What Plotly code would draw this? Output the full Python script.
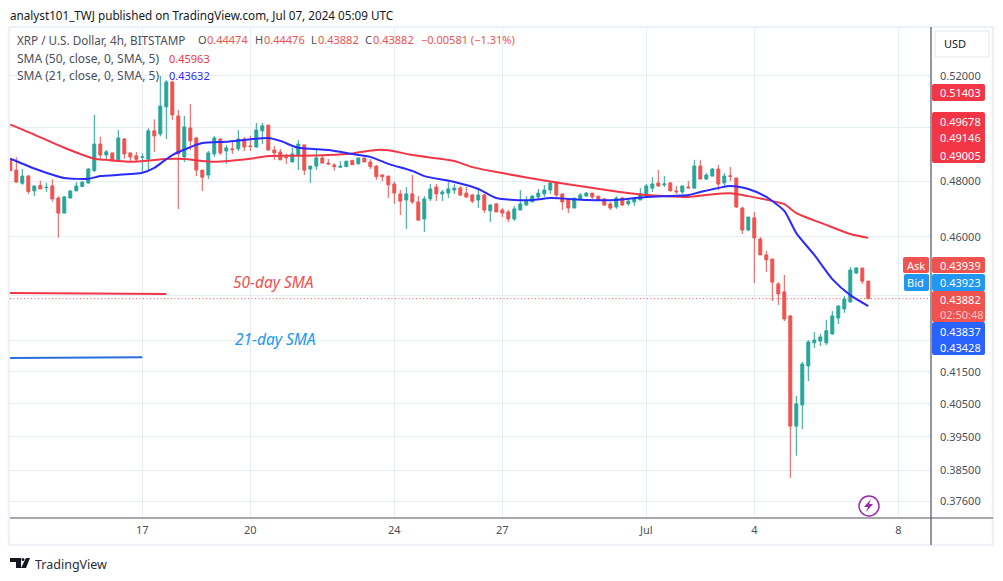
import math
import pandas as pd
import plotly.graph_objects as go

# ---- data (4h bars, XRP / USD) ----
bar_start = "2024-06-13 08:00"
opens = [.4878,.4840,.4792,.4818,.4764,.4784,.4776,.4782,.4738,.4684,.4738,.4764,.4780,.4793,.4839,.4937,.4896,.4904,.4878,.4956,
         .4904,.4893,.4888,.4881,.4987,.4975,.5079,.5176,.5044,.4889,.4998,.4960,.4840,.4822,.4900,.4956,.4911,.4919,.4919,.4956,
         .4930,.4926,.4987,.5009,.4915,.4907,.4889,.4870,.4893,.4934,.4844,.4855,.4885,.4866,.4859,.4851,.4853,.4876,.4864,.4885,
         .4870,.4855,.4822,.4818,.4789,.4753,.4731,.4753,.4724,.4663,.4735,.4778,.4753,.4756,.4767,.4774,.4756,.4749,.4731,.4749,
         .4692,.4717,.4695,.4688,.4663,.4695,.4713,.4724,.4742,.4753,.4767,.4796,.4753,.4735,.4702,.4735,.4745,.4756,.4745,.4735,
         .4717,.4706,.4738,.4717,.4724,.4731,.4749,.4774,.4793,.4786,.4793,.4764,.4760,.4778,.4774,.4855,.4807,.4818,.4844,.4793,
         .4819,.4811,.4702,.4624,.4667,.4592,.4537,.4523,.4438,.4411,.4331,.3982,.4047,.4169,.4243,.4249,.4243,.4272,.4324,.4354,
         .4377,.4475,.4492,.44474]
highs = [.4884,.4888,.4844,.4822,.4782,.4801,.4794,.4806,.4745,.4745,.4764,.4796,.4799,.4847,.5048,.4965,.4915,.4905,.4990,.4960,
         .4904,.4907,.4903,.4997,.5031,.5200,.5184,.5181,.5067,.5044,.5090,.4964,.4840,.4911,.4968,.4960,.4934,.4949,.4990,.4964,
         .4968,.5017,.5017,.5009,.4930,.4919,.4900,.4923,.4952,.4934,.4855,.4919,.4893,.4881,.4865,.4873,.4874,.4878,.4886,.4885,
         .4881,.4858,.4825,.4818,.4798,.4767,.4778,.4822,.4745,.4745,.4789,.4789,.4767,.4796,.4789,.4782,.4778,.4753,.4771,.4753,
         .4717,.4719,.4702,.4695,.4710,.4767,.4745,.4749,.4771,.4785,.4800,.4796,.4753,.4738,.4738,.4756,.4760,.4756,.4745,.4738,
         .4724,.4745,.4742,.4738,.4742,.4774,.4789,.4814,.4840,.4818,.4796,.4782,.4782,.4800,.4878,.4878,.4829,.4848,.4859,.4829,
         .4851,.4811,.4706,.4670,.4688,.4599,.4551,.4523,.4444,.4468,.4334,.4075,.4182,.4252,.4278,.4272,.4318,.4347,.4364,.4397,
         .4495,.4495,.4492,.44476]
lows = [.4838,.4794,.4786,.4753,.4745,.4771,.4760,.4725,.4597,.4684,.4738,.4764,.4778,.4790,.4833,.4878,.4878,.4874,.4878,.4882,
        .4871,.4874,.4834,.4840,.4907,.4966,.4956,.5028,.4699,.4870,.4915,.4818,.4764,.4807,.4889,.4896,.4863,.4900,.4911,.4911,
        .4911,.4923,.4937,.4911,.4878,.4878,.4863,.4870,.4840,.4822,.4793,.4840,.4866,.4859,.4838,.4848,.4851,.4859,.4859,.4870,
        .4844,.4804,.4799,.4738,.4717,.4677,.4628,.4717,.4656,.4617,.4727,.4727,.4727,.4738,.4753,.4745,.4738,.4720,.4702,.4684,
        .4652,.4688,.4670,.4652,.4656,.4695,.4710,.4724,.4731,.4742,.4753,.4742,.4695,.4684,.4702,.4731,.4745,.4735,.4731,.4710,
        .4695,.4699,.4710,.4710,.4710,.4731,.4745,.4760,.4778,.4778,.4764,.4753,.4753,.4774,.4774,.4807,.4804,.4818,.4767,.4782,
        .4800,.4702,.4610,.4620,.4441,.4537,.4478,.4380,.4367,.4314,.3828,.3893,.3973,.4121,.4226,.4233,.4236,.4269,.4304,.4341,
        .4377,.4471,.4438,.43882]
closes = [.4838,.4796,.4818,.4762,.4782,.4771,.4777,.4735,.4684,.4742,.4764,.4782,.4796,.4844,.4937,.4896,.4908,.4874,.4960,.4900,
          .4889,.4880,.4889,.4987,.4968,.5082,.5176,.5048,.4900,.5002,.4949,.4840,.4814,.4904,.4960,.4904,.4923,.4916,.4956,.4926,
          .4928,.4990,.5006,.4915,.4904,.4878,.4886,.4900,.4937,.4840,.4855,.4885,.4866,.4863,.4853,.4854,.4873,.4860,.4885,.4870,
          .4853,.4816,.4816,.4786,.4756,.4727,.4753,.4724,.4659,.4735,.4771,.4753,.4760,.4771,.4774,.4749,.4742,.4727,.4749,.4695,
          .4713,.4688,.4684,.4663,.4699,.4717,.4727,.4745,.4756,.4767,.4793,.4749,.4724,.4702,.4738,.4749,.4756,.4742,.4731,.4713,
          .4702,.4738,.4713,.4727,.4735,.4753,.4782,.4789,.4782,.4789,.4764,.4761,.4782,.4775,.4855,.4807,.4822,.4844,.4789,.4818,
          .4817,.4706,.4624,.4670,.4596,.4537,.4520,.4444,.4404,.4321,.3982,.4050,.4175,.4246,.4252,.4262,.4282,.4331,.4364,.4387,
          .4485,.4492,.4447,.43882]

sma50_bar = [0,4,9,14,16,20,26,29,34,40,43,48,53,57,61,63,67,74,77,82,90,96,101,106,109,113,116,120,123,127,129,131,136,140,143]
sma50 = [.5011,.4973,.4923,.4882,.4878,.4871,.4881,.4881,.4871,.4882,.4892,.4893,.4896,.4902,.4915,.4914,.4896,.4874,.4851,.4829,
         .4798,.4778,.4762,.4749,.4745,.4742,.4749,.4755,.4745,.4727,.4716,.4684,.4642,.4610,.45963]
sma21_bar = [0,4,9,13,15,22,24,27,32,36,43,45,48,53,57,60,63,67,69,74,78,81,84,87,90,96,101,106,113,115,120,123,126,129,131,134,137,140,143]
sma21 = [.4882,.4846,.4811,.4808,.4818,.4830,.4848,.4896,.4941,.4946,.4960,.4949,.4923,.4915,.4900,.4889,.4863,.4837,.4818,.4796,
         .4771,.4738,.4731,.4731,.4738,.4731,.4731,.4742,.4749,.4760,.4782,.4771,.4742,.4692,.4613,.4537,.4454,.4400,.43632]
note_50 = [.4407, .4404]
note_21 = [.4194, .4197]

price_ticks = [.52, .50, .48, .46, .44, .425, .415, .405, .395, .385, .376]
price_labels = ["0.52000", "", "0.48000", "0.46000", "", "", "0.41500", "0.40500", "0.39500", "0.38500", "0.37600"]
date_ticks = ["2024-06-17", "2024-06-20", "2024-06-24", "2024-06-27", "2024-07-01", "2024-07-04", "2024-07-08"]
date_labels = ["17", "20", "24", "27", "Jul", "4", "8"]
last_close = .43882

# ---- figure geometry ----
W, H = 1003, 581
L, R, T, B = 10, 931, 28, 518
FONT = "Noto Sans"
GREEN, RED = "#26a69a", "#ef5350"
GREY = "#4a4f5e"

def fx(px): return (px - L) / (R - L)
def fy(py): return (B - py) / (B - T)

times = pd.date_range(bar_start, periods=len(opens), freq="4h")
fig = go.Figure()
fig.add_trace(go.Candlestick(
    x=times, open=opens, high=highs, low=lows, close=closes, whiskerwidth=0,
    increasing=dict(line=dict(color=GREEN, width=1), fillcolor=GREEN),
    decreasing=dict(line=dict(color=RED, width=1), fillcolor=RED),
    showlegend=False))
fig.add_trace(go.Scatter(x=["2024-06-13 07:48", "2024-07-08 21:48"], y=[last_close, last_close], mode="lines",
                         line=dict(color=RED, width=1, dash="1px,2.5px"), showlegend=False))
fig.add_trace(go.Scatter(x=times[sma50_bar], y=sma50, mode="lines",
                         line=dict(color="#f23645", width=2, shape="spline", smoothing=0.6), showlegend=False))
fig.add_trace(go.Scatter(x=times[sma21_bar], y=sma21, mode="lines",
                         line=dict(color="#2a2aff", width=2, shape="spline", smoothing=0.6), showlegend=False))
fig.add_trace(go.Scatter(x=["2024-06-13 07:48", "2024-06-17 16:00"], y=note_50, mode="lines",
                         line=dict(color="#f23645", width=2), showlegend=False))
fig.add_trace(go.Scatter(x=["2024-06-13 07:48", "2024-06-17 00:00"], y=note_21, mode="lines",
                         line=dict(color="#2a6fe0", width=2), showlegend=False))

shapes, notes = [], []

def rrect(x0, y0, x1, y1, fill, r=2):
    X0, X1, Y0, Y1 = fx(x0), fx(x1), fy(y0), fy(y1)
    dx, dy = r / (R - L), r / (B - T)
    p = (f"M{X0+dx},{Y0} L{X1-dx},{Y0} Q{X1},{Y0} {X1},{Y0-dy} L{X1},{Y1+dy} Q{X1},{Y1} {X1-dx},{Y1} "
         f"L{X0+dx},{Y1} Q{X0},{Y1} {X0},{Y1+dy} L{X0},{Y0-dy} Q{X0},{Y0} {X0+dx},{Y0} Z")
    shapes.append(dict(type="path", xref="paper", yref="paper", path=p, fillcolor=fill,
                       line=dict(width=0), layer="above"))

def text(px, py, s, color=GREY, size=11, anchor="left"):
    notes.append(dict(xref="paper", yref="paper", x=fx(px), y=fy(py), text=s, showarrow=False,
                      xanchor=anchor, yanchor="middle", align="left", borderpad=0, borderwidth=0,
                      font=dict(family=FONT, size=size, color=color)))

def line(x0, y0, x1, y1, color, width=1):
    shapes.append(dict(type="line", xref="paper", yref="paper", x0=fx(x0), y0=fy(y0), x1=fx(x1), y1=fy(y1),
                       line=dict(color=color, width=width), layer="above"))

# frame and axis lines
shapes.append(dict(type="rect", xref="paper", yref="paper", x0=fx(9), y0=fy(27), x1=fx(993), y1=fy(545),
                   line=dict(color="#eff1f8", width=2.5), layer="below"))
line(R, 27, R, 545, "#50535e", 1.2)
line(L, B, 993, B, "#50535e", 1.2)

# header and legend
text(10, 15, "analyst101_TWJ published on TradingView.com, Jul 07, 2024 05:09 UTC", "#131722", 11.7)
text(17, 40, "XRP / U.S. Dollar, 4h, BITSTAMP", GREY, 11.7)
for lx, lab, vx, val in [(198, "O", 207, "0.44474"), (255, "H", 264, "0.44476"), (311, "L", 318, "0.43882"), (365, "C", 373, "0.43882")]:
    text(lx, 40, lab)
    text(vx, 40, val, RED)
text(421, 40, "−0.00581 (−1.31%)", RED)
text(17, 59, "SMA (50, close, 0, SMA, 5)", GREY, 12)
text(169, 59, "0.45963", "#f23645")
text(17, 76, "SMA (21, close, 0, SMA, 5)", GREY, 12)
text(169, 76, "0.43632", "#2a2aff")

# chart notes
text(233, 282, "<i>50-day SMA</i>", "#f05050", 15.5)
text(235, 339, "<i>21-day SMA</i>", "#2196f3", 15.5)

# price scale badges
rrect(935, 31, 989, 57, "#ffffff", 4)
shapes.append(dict(type="rect", xref="paper", yref="paper", x0=fx(935), y0=fy(31), x1=fx(989), y1=fy(57),
                   line=dict(color="#e6e8ef", width=1), layer="above"))
text(944, 44, "USD", "#131722", 11)
rrect(932, 84, 985, 101, "#f23645")
rrect(932, 112, 985, 163, "#f23645")
rrect(932, 257, 985, 273, RED)
rrect(932, 274, 985, 291, "#2196f3")
rrect(932, 291, 985, 322, RED)
rrect(932, 322, 985, 355, "#2962ff")
rrect(903, 257, 929, 273, RED)
rrect(904, 274, 929, 291, "#2196f3")
for py, s in [(92, "0.51403"), (121, "0.49678"), (137, "0.49146"), (155, "0.49005"), (265, "0.43939"), (282, "0.43923"),
              (299, "0.43882"), (331, "0.43837"), (347, "0.43428")]:
    text(940, py, s, "#ffffff")
text(940, 314, "02:50:48", "#fbc6c5")
text(907, 265, "Ask", "#ffffff")
text(907, 282, "Bid", "#ffffff")

# lightning badge
shapes.append(dict(type="circle", xref="paper", yref="paper", x0=fx(859), y0=fy(496), x1=fx(879), y1=fy(516),
                   line=dict(color="#9c27b0", width=1.5), fillcolor="#ffffff", layer="above"))
pts = [(871, 499), (864, 507), (868, 507), (866, 512), (873, 504), (869, 504)]
shapes.append(dict(type="path", xref="paper", yref="paper",
                   path="M" + " L".join(f"{fx(a)},{fy(b)}" for a, b in pts) + " Z",
                   fillcolor="#9c27b0", line=dict(width=0), layer="above"))

# TradingView logo
logo_t = [(10, 558), (21, 558), (21, 568), (16, 568), (16, 562), (10, 562)]
logo_v = [(26, 558), (30, 558), (26, 568), (21, 568)]
for poly in (logo_t, logo_v):
    shapes.append(dict(type="path", xref="paper", yref="paper",
                       path="M" + " L".join(f"{fx(a)},{fy(b)}" for a, b in poly) + " Z",
                       fillcolor="#131722", line=dict(width=0), layer="above"))
shapes.append(dict(type="circle", xref="paper", yref="paper", x0=fx(21.5), y0=fy(558), x1=fx(24.5), y1=fy(561),
                   fillcolor="#131722", line=dict(width=0), layer="above"))
text(35, 564, "TradingView", "#2a2e39", 12.5)

top = 0.48 * math.exp((181 - T) / 1312)
bottom = 0.48 * math.exp((181 - B) / 1312)

fig.update_layout(
    width=W, height=H, autosize=False,
    margin=dict(l=L, r=W - R, t=T, b=H - B, pad=0),
    paper_bgcolor="#ffffff", plot_bgcolor="#ffffff",
    font=dict(family=FONT, size=11, color=GREY),
    showlegend=False, shapes=shapes, annotations=notes,
    xaxis=dict(type="date", range=["2024-06-13 07:48", "2024-07-08 21:48"], rangeslider=dict(visible=False),
               tickmode="array", tickvals=date_ticks, ticktext=date_labels, ticks="", showline=False,
               gridcolor="#e6eef5", gridwidth=1, zeroline=False, tickfont=dict(size=11, color=GREY), ticklabelstandoff=4),
    yaxis=dict(type="log", side="right", range=[math.log10(bottom), math.log10(top)],
               tickmode="array", tickvals=price_ticks, ticktext=price_labels, ticks="",
               showline=False, gridcolor="#e6eef5", gridwidth=1, zeroline=False,
               tickfont=dict(size=11, color=GREY), ticklabelstandoff=8),
)

fig.write_html("out.html", config={"displayModeBar": False}, post_script="document.body.style.margin='0';")
